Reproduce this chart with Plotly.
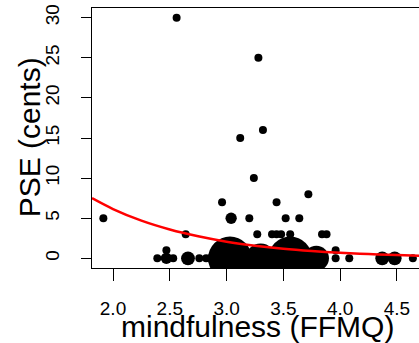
import numpy as np
import plotly.graph_objects as go

# mindfulness score (x), PSE in cents (y), number of participants at that point (n)
mind_x = [1.915, 2.56, 3.28, 3.32, 3.12, 3.24, 3.72, 2.96, 3.44,
          3.04, 3.20, 3.52, 3.64,
          2.64, 3.27, 3.40, 3.44, 3.48, 3.56, 3.84, 3.88,
          2.47, 3.96,
          2.39, 2.47, 2.53, 2.66, 2.76, 2.82, 2.90, 3.03, 3.30, 3.56, 3.79,
          3.96, 4.08, 4.37, 4.48, 4.64]
pse_y = [5, 30, 25, 16, 15, 10, 8, 7, 7,
         5, 5, 5, 5,
         3, 3, 3, 3, 3, 3, 3, 3,
         1, 1,
         0, 0, 0, 0, 0, 0, 0, 0, 0, 0, 0,
         0, 0, 0, 0, 0]
count_n = [1, 1, 1, 1, 1, 1, 1, 1, 1,
           2, 1, 1, 1,
           1, 1, 1, 1, 1, 1, 1, 1,
           1, 1,
           1, 2, 1, 3, 1, 1, 4, 30, 14, 30, 10,
           1, 1, 3, 3, 1]

# fitted curve
curve_x = [1.815, 2.0, 2.25, 2.5, 2.75, 3.0, 3.25, 3.5, 3.75, 4.0, 4.25, 4.5, 4.7]
curve_y = [7.5, 6.15, 4.7, 3.6, 2.75, 2.08, 1.58, 1.2, 0.92, 0.7, 0.53, 0.41, 0.33]

x_ticks = [2.0, 2.5, 3.0, 3.5, 4.0, 4.5]
x_tick_labels = ["2.0", "2.5", "3.0", "3.5", "4.0", "4.5"]
y_ticks = [0, 5, 10, 15, 20, 25, 30]
y_tick_labels = ["0", "5", "10", "15", "20", "25", "30"]

FONT = "Liberation Sans, Arial, sans-serif"
sizes = [8 * np.sqrt(n) for n in count_n]

fig = go.Figure()
fig.add_trace(go.Scatter(
    x=mind_x, y=pse_y, mode="markers",
    marker=dict(color="black", size=sizes, sizemode="diameter", opacity=1,
                line=dict(width=0)),
    hoverinfo="skip"))
fig.add_trace(go.Scatter(
    x=curve_x, y=curve_y, mode="lines",
    line=dict(color="#ff0000", width=2.5, shape="spline"),
    hoverinfo="skip"))

fig.update_layout(
    width=419, height=343,
    margin=dict(l=92, r=0, t=8, b=75),
    plot_bgcolor="white", paper_bgcolor="white",
    showlegend=False,
    font=dict(family=FONT, color="black"),
    annotations=[
        dict(text="mindfulness (FFMQ)", xref="paper", yref="paper",
             x=0.506, y=-0.226, xanchor="center", yanchor="middle",
             showarrow=False, font=dict(size=30, family=FONT, color="black")),
        dict(text="PSE (cents)", xref="paper", yref="paper",
             x=-0.19, y=0.502, xanchor="center", yanchor="middle", textangle=-90,
             showarrow=False, font=dict(size=30, family=FONT, color="black")),
    ],
)
fig.update_xaxes(
    range=[1.815, 4.694], tickvals=x_ticks, ticktext=x_tick_labels,
    ticks="outside", ticklen=12, tickwidth=1, tickcolor="black",
    showline=True, linecolor="black", linewidth=1, mirror=True,
    showgrid=False, zeroline=False, ticklabelstandoff=11,
    tickfont=dict(size=19, family=FONT, color="black"))
fig.update_yaxes(
    range=[-1.2, 31.2], tickvals=y_ticks, ticktext=y_tick_labels,
    ticks="outside", ticklen=10, tickwidth=1, tickcolor="black",
    showline=True, linecolor="black", linewidth=1, mirror=False,
    showgrid=False, zeroline=False, tickangle=-90, ticklabelstandoff=14,
    tickfont=dict(size=19, family=FONT, color="black"))

fig.write_html("out.html", config={"displayModeBar": False},
               post_script="document.body.style.margin='0';")
